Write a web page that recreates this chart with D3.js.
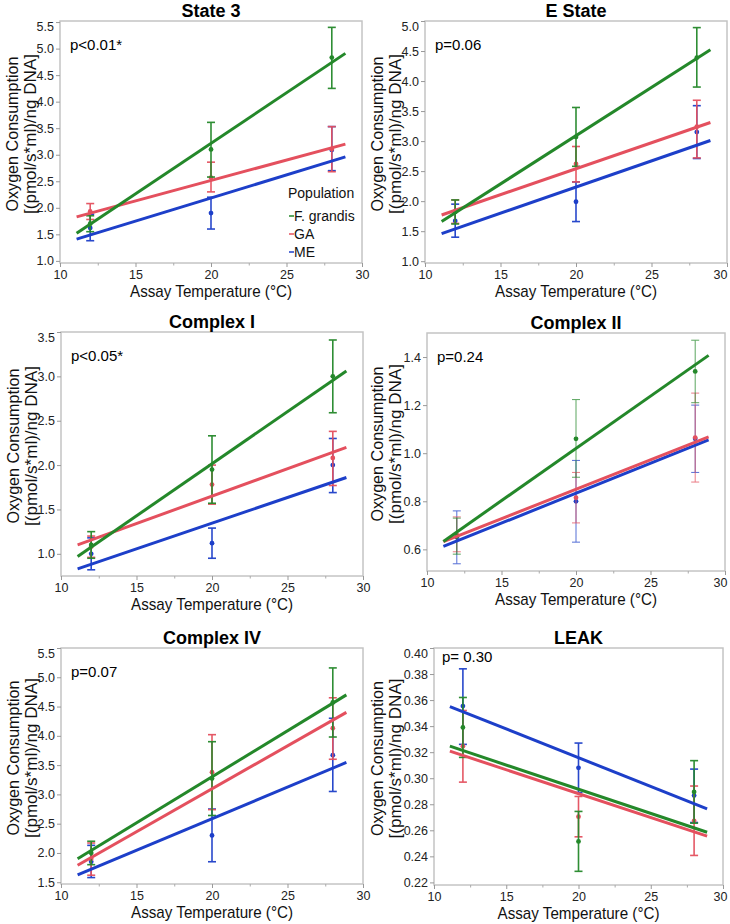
<!DOCTYPE html>
<html>
<head>
<meta charset="utf-8">
<script src="https://cdn.jsdelivr.net/npm/d3@7"></script>
<style>
  html, body { margin: 0; padding: 0; background: #fff; }
  svg { display: block; }
</style>
</head>
<body>
<svg id="chart" width="730" height="924"></svg>
<script>
// ---------------- DATA ----------------
const populations = ["F. grandis", "GA", "ME"];
const temps = [12, 20, 28];
const fitTemps = [11.1, 28.9];
const xTicks = [10, 15, 20, 25, 30];
const xMinorTicks = [12.5, 17.5, 22.5, 27.5];

const panelTitles = ["State 3", "E State", "Complex I", "Complex II", "Complex IV", "LEAK"];
const pValues = ["p<0.01*", "p=0.06", "p<0.05*", "p=0.24", "p=0.07", "p= 0.30"];

// y domains & ticks
const yDomains = [[0.96, 5.52], [0.97, 5.0], [0.75, 3.5], [0.51, 1.5], [1.47, 5.5], [0.218, 0.40]];
const yTicksState3 = [1.0, 1.5, 2.0, 2.5, 3.0, 3.5, 4.0, 4.5, 5.0, 5.5];
const yTicksEState = [1.0, 1.5, 2.0, 2.5, 3.0, 3.5, 4.0, 4.5, 5.0];
const yTicksComplexI = [1.0, 1.5, 2.0, 2.5, 3.0, 3.5];
const yTicksComplexII = [0.6, 0.8, 1.0, 1.2, 1.4];
const yTicksComplexIV = [1.5, 2.0, 2.5, 3.0, 3.5, 4.0, 4.5, 5.0, 5.5];
const yTicksLeak = [0.22, 0.24, 0.26, 0.28, 0.30, 0.32, 0.34, 0.36, 0.38, 0.40];

// rows: F. grandis, GA, ME ; columns: 12, 20, 28 °C
const state3Mean  = [[1.70, 3.10, 4.83], [1.93, 2.57, 3.11], [1.62, 1.90, 3.09]];
const state3Lower = [[1.55, 2.58, 4.25], [1.78, 2.30, 2.68], [1.38, 1.60, 2.70]];
const state3Upper = [[1.85, 3.61, 5.40], [2.08, 2.86, 3.53], [1.88, 2.20, 3.53]];
const state3Fit   = [[1.52, 4.91], [1.83, 3.20], [1.41, 2.96]];

const eStateMean  = [[1.82, 3.07, 4.39], [1.83, 2.62, 3.24], [1.67, 1.99, 3.15]];
const eStateLower = [[1.62, 2.58, 3.90], [1.63, 2.32, 2.72], [1.40, 1.66, 2.71]];
const eStateUpper = [[2.02, 3.56, 4.89], [2.02, 2.91, 3.68], [1.95, 2.32, 3.59]];
const eStateFit   = [[1.66, 4.52], [1.77, 3.31], [1.46, 3.01]];

const complexIMean  = [[1.10, 1.95, 3.00], [1.08, 1.78, 2.08], [1.00, 1.12, 2.00]];
const complexILower = [[0.95, 1.57, 2.59], [0.96, 1.56, 1.77], [0.82, 0.95, 1.69]];
const complexIUpper = [[1.25, 2.33, 3.41], [1.20, 2.00, 2.38], [1.18, 1.29, 2.30]];
const complexIFit   = [[0.97, 3.06], [1.10, 2.20], [0.83, 1.86]];

const complexIIMean  = [[0.655, 1.06, 1.34], [0.66, 0.815, 1.065], [0.65, 0.80, 1.06]];
const complexIILower = [[0.58, 0.90, 1.21], [0.59, 0.71, 0.88], [0.54, 0.63, 0.92]];
const complexIIUpper = [[0.73, 1.223, 1.47], [0.735, 0.92, 1.25], [0.76, 0.97, 1.20]];
const complexIIFit   = [[0.633, 1.407], [0.632, 1.068], [0.612, 1.055]];

const complexIVMean  = [[2.00, 3.27, 4.57], [1.90, 3.38, 4.13], [1.85, 2.30, 3.67]];
const complexIVLower = [[1.80, 2.64, 3.98], [1.62, 2.74, 3.60], [1.58, 1.85, 3.05]];
const complexIVUpper = [[2.20, 3.90, 5.16], [2.17, 4.02, 4.65], [2.13, 2.75, 4.30]];
const complexIVFit   = [[1.90, 4.70], [1.79, 4.40], [1.625, 3.545]];

const leakMean  = [[0.339, 0.2515, 0.2895], [0.3246, 0.2705, 0.2673], [0.3554, 0.308, 0.2867]];
const leakLower = [[0.316, 0.2285, 0.2655], [0.297, 0.255, 0.2407], [0.326, 0.289, 0.266]];
const leakUpper = [[0.362, 0.2745, 0.3135], [0.352, 0.286, 0.294], [0.384, 0.327, 0.307]];
const leakFit   = [[0.3246, 0.2585], [0.3208, 0.2555], [0.355, 0.2765]];

// ---------------- STYLE / LAYOUT ----------------
const colors = ["#24882a", "#e4505e", "#1d3fc9"];
const panels = [
  {box: [60, 21, 362, 263],  yl: [42, 24], ticks: yTicksState3,    fmt: ".1f", mean: state3Mean,    lo: state3Lower,    hi: state3Upper,    fit: state3Fit,    legend: true},
  {box: [425, 21, 727, 263], yl: [42, 24], ticks: yTicksEState,    fmt: ".1f", mean: eStateMean,    lo: eStateLower,    hi: eStateUpper,    fit: eStateFit},
  {box: [61, 332, 363, 576], yl: [42, 24], ticks: yTicksComplexI,  fmt: ".1f", mean: complexIMean,  lo: complexILower,  hi: complexIUpper,  fit: complexIFit},
  {box: [427, 333, 725, 571],yl: [44, 26], ticks: yTicksComplexII, fmt: ".1f", mean: complexIIMean, lo: complexIILower, hi: complexIIUpper, fit: complexIIFit, thin: true},
  {box: [61, 648, 363, 884], yl: [42, 24], ticks: yTicksComplexIV, fmt: ".1f", mean: complexIVMean, lo: complexIVLower, hi: complexIVUpper, fit: complexIVFit},
  {box: [434, 648, 723, 885],yl: [51, 33], ticks: yTicksLeak,      fmt: ".2f", mean: leakMean,      lo: leakLower,      hi: leakUpper,      fit: leakFit}
];

const svg = d3.select("#chart");
const FONT = "'Liberation Sans', Arial, Helvetica, sans-serif";

panels.forEach((p, i) => {
  const [L, T, R, B] = p.box;
  const x = d3.scaleLinear().domain([10, 30]).range([L, R]);
  const y = d3.scaleLinear().domain(yDomains[i]).range([B, T]);
  const g = svg.append("g");

  // frame
  g.append("rect").attr("x", L).attr("y", T).attr("width", R - L).attr("height", B - T)
    .attr("fill", "none").attr("stroke", "#c4c4c4").attr("stroke-width", 1.5);

  // x axis ticks
  const xAxis = d3.axisBottom(x).tickValues(xTicks).tickSize(4).tickPadding(3).tickFormat(d3.format("d"));
  const xa = g.append("g").attr("transform", `translate(0,${B})`).call(xAxis);
  xa.select(".domain").remove();
  xa.selectAll("line").attr("stroke", "#999");
  xa.selectAll("text").attr("font-family", FONT).attr("font-size", 12.5).attr("fill", "#222");
  // keep edge labels inside the picture
  xa.selectAll(".tick text").each(function(d) {
    const bb = this.getBBox();
    const right = x(d) + bb.x + bb.width;
    if (right > 727) d3.select(this).attr("x", 727 - right);
  });
  const xm = g.append("g").attr("transform", `translate(0,${B})`)
    .call(d3.axisBottom(x).tickValues(xMinorTicks).tickSize(2.5).tickFormat(""));
  xm.select(".domain").remove();
  xm.selectAll("line").attr("stroke", "#aaa");

  // y axis
  const yAxis = d3.axisLeft(y).tickValues(p.ticks).tickSize(4).tickPadding(2).tickFormat(d3.format(p.fmt));
  const ya = g.append("g").attr("transform", `translate(${L},0)`).call(yAxis);
  ya.select(".domain").remove();
  ya.selectAll("line").attr("stroke", "#999");
  ya.selectAll("text").attr("font-family", FONT).attr("font-size", 12.5).attr("fill", "#222");
  // keep top label inside the frame like the original
  ya.selectAll(".tick").each(function(d) {
    const yy = y(d);
    if (yy < T + 5) d3.select(this).select("text").attr("y", T + 5 - yy);
  });

  // title
  g.append("text").attr("x", (L + R) / 2).attr("y", T - 4).attr("text-anchor", "middle")
    .attr("font-family", FONT).attr("font-weight", "bold").attr("font-size", 18).attr("fill", "#000")
    .text(panelTitles[i]);

  // x label
  g.append("text").attr("x", (L + R) / 2).attr("y", B + 34).attr("text-anchor", "middle")
    .attr("font-family", FONT).attr("font-size", 17).attr("fill", "#111")
    .attr("textLength", 162).attr("lengthAdjust", "spacingAndGlyphs")
    .text("Assay Temperature (°C)");

  // y label (two lines)
  const cy = (T + B) / 2 - 8;
  g.append("text").attr("transform", `translate(${L - p.yl[0]},${cy}) rotate(-90)`).attr("text-anchor", "middle")
    .attr("font-family", FONT).attr("font-size", 17).attr("fill", "#111")
    .attr("textLength", 155).attr("lengthAdjust", "spacingAndGlyphs")
    .text("Oxygen Consumption");
  g.append("text").attr("transform", `translate(${L - p.yl[1]},${cy}) rotate(-90)`).attr("text-anchor", "middle")
    .attr("font-family", FONT).attr("font-size", 17).attr("fill", "#111")
    .attr("textLength", 160).attr("lengthAdjust", "spacingAndGlyphs")
    .text("[(pmol/s*ml)/ng DNA]");

  // p-value
  g.append("text").attr("x", L + (i === 5 ? 8 : 10)).attr("y", T + (i === 5 ? 14 : 29))
    .attr("font-family", FONT).attr("font-size", 15).attr("fill", "#000")
    .text(pValues[i]);

  // error bars + points
  const ew = p.thin ? 1 : 1.6;
  const eo = p.thin ? 0.75 : 0.95;
  [2, 1, 0].forEach(k => {
    temps.forEach((t, j) => {
      const cx = x(t);
      const eb = g.append("g").attr("stroke", colors[k]).attr("stroke-width", ew).attr("opacity", eo);
      eb.append("line").attr("x1", cx).attr("x2", cx).attr("y1", y(p.lo[k][j])).attr("y2", y(p.hi[k][j]));
      eb.append("line").attr("x1", cx - 4).attr("x2", cx + 4).attr("y1", y(p.lo[k][j])).attr("y2", y(p.lo[k][j]));
      eb.append("line").attr("x1", cx - 4).attr("x2", cx + 4).attr("y1", y(p.hi[k][j])).attr("y2", y(p.hi[k][j]));
      g.append("circle").attr("cx", cx).attr("cy", y(p.mean[k][j])).attr("r", 2.4).attr("fill", colors[k]);
    });
  });

  // fit lines
  const line = d3.line().x(d => x(d[0])).y(d => y(d[1]));
  [2, 1, 0].forEach(k => {
    g.append("path").datum(fitTemps.map((t, m) => [t, p.fit[k][m]]))
      .attr("d", line).attr("fill", "none").attr("stroke", colors[k]).attr("stroke-width", 3);
  });

  // legend
  if (p.legend) {
    const lx = 288;
    g.append("text").attr("x", lx).attr("y", 198).attr("font-family", FONT).attr("font-size", 14)
      .attr("fill", "#111").text("Population");
    const ly = [216, 234, 252];
    populations.forEach((name, k) => {
      g.append("line").attr("x1", lx + 1).attr("x2", lx + 6).attr("y1", ly[k]).attr("y2", ly[k])
        .attr("stroke", colors[k]).attr("stroke-width", 1.5);
      g.append("text").attr("x", lx + 6).attr("y", ly[k] + 5).attr("font-family", FONT).attr("font-size", 14)
        .attr("fill", "#111").text(name);
    });
  }
});
</script>
</body>
</html>
